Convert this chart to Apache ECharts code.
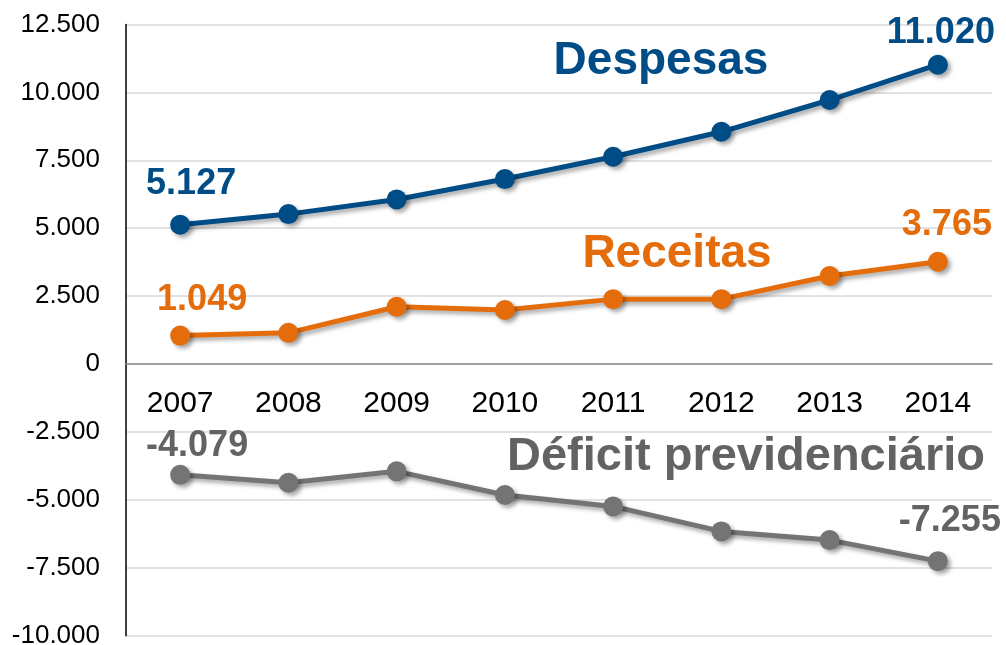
<!DOCTYPE html>
<html>
<head>
<meta charset="utf-8">
<script src="https://cdn.jsdelivr.net/npm/echarts@6/dist/echarts.min.js"></script>
<style>html,body{margin:0;padding:0;background:#fff}#c{width:1006px;height:645px}</style>
</head>
<body>
<div id="c"></div>
<script>
const categories = ['2007','2008','2009','2010','2011','2012','2013','2014'];
const despesas = [5127, 5520, 6060, 6810, 7630, 8550, 9720, 11020];
const receitas = [1049, 1150, 2110, 1990, 2390, 2390, 3240, 3765];
const deficit = [-4079, -4370, -3950, -4820, -5240, -6160, -6480, -7255];
const seriesNames = ['Despesas', 'Receitas', 'Déficit previdenciário'];

const FONT = '"Liberation Sans", Arial, sans-serif';
const fmt = v => {
  const s = Math.abs(v).toString().replace(/\B(?=(\d{3})+(?!\d))/g, '.');
  return (v < 0 ? '-' : '') + s;
};
const shadow = {shadowColor:'rgba(0,0,0,0.35)', shadowBlur:4, shadowOffsetX:3, shadowOffsetY:3};

const H = 645, GT = 24.5, GB = 9.3, YMIN = -10000, YMAX = 12500;
const plotH = H - GT - GB;
const zeroFromBottom = plotH * (0 - YMIN) / (YMAX - YMIN);

function build(values, labelColor, firstOff, lastOff) {
  return values.map((v, i) => {
    const item = {value: v};
    if (i === 0 || i === values.length - 1) {
      item.label = {
        show: true, position: 'inside', align: 'center', verticalAlign: 'middle',
        offset: i === 0 ? firstOff : lastOff,
        formatter: p => fmt(p.value),
        color: labelColor, fontSize: 36, fontWeight: 'bold', fontFamily: FONT,
        textShadowColor: 'transparent'
      };
    }
    return item;
  });
}

function lineSeries(name, values, color, labelColor, firstOff, lastOff) {
  return {
    name, type: 'line', data: build(values, labelColor, firstOff, lastOff),
    symbol: 'circle', symbolSize: 20,
    lineStyle: Object.assign({color, width: 5}, shadow),
    itemStyle: Object.assign({color}, shadow),
    label: {show: false},
    emphasis: {disabled: true},
    z: 3
  };
}

const chart = echarts.init(document.getElementById('c'), null, {renderer: 'canvas'});
chart.setOption({
  animation: false,
  backgroundColor: '#fff',
  grid: {left: 126, top: GT, right: 14, bottom: GB, containLabel: false, outerBoundsMode: 'none'},
  xAxis: {
    type: 'category', data: categories, boundaryGap: true, position: 'bottom',
    offset: -zeroFromBottom,
    axisLine: {show: true, onZero: false, lineStyle: {color: '#8c8c8c', width: 1.5}},
    axisTick: {show: false},
    axisLabel: {color: '#000', fontSize: 30, fontFamily: FONT, margin: 25},
    splitLine: {show: false}
  },
  yAxis: {
    type: 'value', min: YMIN, max: YMAX, interval: 2500,
    axisLine: {show: true, onZero: false, lineStyle: {color: '#000', width: 1.5}},
    axisTick: {show: false},
    axisLabel: {color: '#000', fontSize: 26, fontFamily: FONT, margin: 26, formatter: fmt},
    splitLine: {show: true, lineStyle: {color: '#d9d9d9', width: 1.5}}
  },
  series: [
    lineSeries(seriesNames[0], despesas, '#004c87', '#004c87', [11, -41], [3, -31.5]),
    lineSeries(seriesNames[1], receitas, '#e46c0a', '#e46c0a', [22, -35.5], [9, -37]),
    lineSeries(seriesNames[2], deficit, '#747474', '#636363', [17, -28.5], [12, -40.5])
  ],
  graphic: [
    {type: 'text', x: 661, y: 61, z: 10, style: {text: seriesNames[0], fill: '#004c87', font: 'bold 46px ' + FONT, textAlign: 'center', textVerticalAlign: 'middle'}},
    {type: 'text', x: 677, y: 254, z: 10, style: {text: seriesNames[1], fill: '#e46c0a', font: 'bold 46px ' + FONT, textAlign: 'center', textVerticalAlign: 'middle'}},
    {type: 'text', x: 746, y: 457, z: 10, style: {text: seriesNames[2], fill: '#636363', font: 'bold 47px ' + FONT, textAlign: 'center', textVerticalAlign: 'middle'}}
  ]
});
</script>
</body>
</html>
